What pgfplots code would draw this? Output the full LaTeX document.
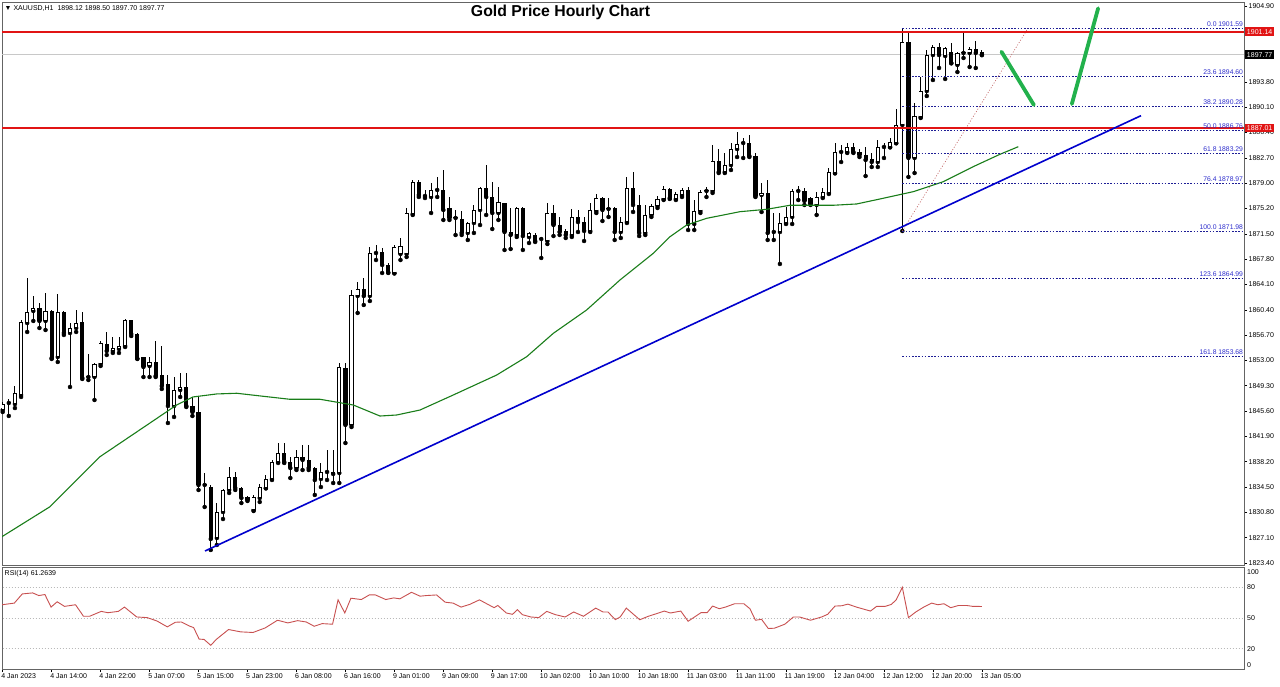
\documentclass[border=0pt]{standalone}
\usepackage{fontspec}
\setmainfont{Liberation Sans}
\usepackage{pgfplots}
\usepackage{pgfplotstable}
\pgfplotsset{compat=1.18}
\definecolor{fibline}{RGB}{30,30,150}
\definecolor{fibtext}{RGB}{45,45,205}
\definecolor{magreen}{RGB}{25,125,25}
\definecolor{trendblue}{RGB}{0,0,205}
\definecolor{arrowgreen}{RGB}{34,177,76}
\definecolor{rsired}{RGB}{200,80,80}
\definecolor{framegray}{RGB}{100,100,100}
\definecolor{fibdiag}{RGB}{190,90,90}
\definecolor{bidgray}{RGB}{200,200,200}
\definecolor{mtred}{RGB}{225,20,20}

\pgfplotstableread{
i O H L C
0 1845.78 1846.95 1845.49 1846.66
1 1846.81 1847.39 1844.91 1846.95
2 1846.66 1849.30 1846.07 1848.27
3 1847.98 1858.95 1847.69 1858.66
4 1858.51 1865.10 1857.20 1860.13
5 1860.27 1862.47 1858.81 1860.71
6 1860.71 1861.44 1857.78 1858.81
7 1858.81 1862.90 1857.49 1860.27
8 1860.27 1860.42 1853.25 1853.39
9 1853.54 1862.76 1852.81 1860.13
10 1860.13 1860.27 1856.76 1857.05
11 1857.05 1858.51 1849.15 1857.78
12 1857.78 1860.42 1857.20 1858.51
13 1858.66 1860.13 1850.32 1850.47
14 1850.61 1853.98 1850.17 1850.70
15 1850.61 1852.66 1847.25 1852.51
16 1852.51 1855.88 1852.22 1855.59
17 1855.44 1857.20 1853.83 1854.42
18 1854.42 1856.47 1854.13 1854.86
19 1854.71 1856.47 1854.13 1855.15
20 1855.15 1859.10 1855.00 1858.95
21 1858.95 1859.00 1856.61 1856.90
22 1856.90 1857.05 1853.25 1853.30
23 1853.54 1853.60 1850.61 1852.08
24 1852.22 1853.54 1850.61 1852.81
25 1852.81 1855.88 1850.61 1850.76
26 1850.90 1855.15 1848.86 1849.30
27 1849.59 1850.90 1843.88 1846.37
28 1846.37 1850.61 1844.76 1848.71
29 1848.71 1851.20 1847.69 1849.15
30 1849.15 1851.20 1846.22 1846.37
31 1846.37 1847.69 1844.91 1845.49
32 1845.49 1847.69 1834.08 1834.81
33 1834.81 1836.56 1831.59 1834.95
34 1834.51 1834.81 1825.30 1826.91
35 1827.05 1832.17 1826.03 1830.86
36 1830.86 1834.22 1829.83 1834.08
37 1834.08 1837.44 1833.64 1835.98
38 1835.98 1836.71 1834.08 1834.37
39 1834.37 1834.51 1832.17 1832.91
40 1833.05 1833.20 1832.47 1832.61
41 1831.15 1833.35 1831.00 1833.05
42 1832.91 1834.95 1832.32 1834.51
43 1834.37 1836.27 1834.30 1835.69
44 1835.69 1838.47 1835.54 1838.17
45 1838.17 1840.95 1838.03 1839.49
46 1839.49 1840.95 1838.03 1838.17
47 1838.17 1838.90 1835.83 1837.29
48 1837.29 1839.93 1837.00 1838.90
49 1838.90 1840.66 1837.00 1838.47
50 1838.47 1840.66 1837.00 1837.29
51 1837.29 1837.44 1833.35 1835.54
52 1835.69 1838.03 1834.51 1836.71
53 1836.71 1839.93 1835.54 1836.85
54 1836.71 1839.93 1835.10 1836.42
55 1836.56 1852.66 1835.10 1852.08
56 1851.93 1852.66 1840.95 1843.59
57 1843.59 1863.34 1843.29 1862.61
58 1862.47 1864.51 1859.98 1863.49
59 1863.49 1865.10 1861.15 1862.47
60 1862.47 1869.63 1861.73 1868.76
61 1868.76 1869.93 1867.73 1868.90
62 1868.90 1869.49 1865.83 1867.00
63 1867.00 1867.29 1865.83 1865.90
64 1865.83 1869.93 1865.75 1869.63
65 1868.61 1870.95 1867.73 1869.78
66 1868.61 1875.34 1868.17 1874.61
67 1874.46 1879.44 1874.32 1879.15
68 1879.15 1879.44 1876.95 1877.24
69 1877.10 1877.98 1876.80 1877.15
70 1876.95 1879.00 1874.61 1877.98
71 1877.98 1879.88 1876.95 1878.03
72 1877.98 1880.90 1873.59 1875.05
73 1875.34 1876.95 1873.59 1873.88
74 1873.88 1875.05 1871.39 1873.93
75 1873.73 1874.90 1871.39 1871.69
76 1871.69 1873.29 1870.66 1873.15
77 1873.15 1875.78 1871.69 1875.05
78 1875.05 1878.41 1872.85 1878.27
79 1878.27 1881.63 1874.32 1876.95
80 1876.95 1879.15 1872.27 1874.61
81 1874.61 1878.41 1873.59 1876.22
82 1876.07 1876.10 1869.20 1871.83
83 1871.83 1875.34 1869.34 1871.39
84 1871.39 1875.49 1871.10 1875.34
85 1875.34 1875.49 1869.20 1871.24
86 1871.10 1871.83 1870.22 1871.69
87 1871.39 1871.69 1870.37 1870.51
88 1870.80 1871.10 1868.03 1870.85
89 1870.51 1876.07 1870.07 1874.61
90 1874.61 1875.78 1871.24 1872.85
91 1872.85 1874.03 1871.39 1871.83
92 1871.98 1872.27 1870.95 1871.39
93 1871.39 1875.20 1871.10 1874.03
94 1874.03 1875.05 1871.83 1873.29
95 1873.29 1874.03 1870.51 1871.98
96 1871.98 1876.07 1871.83 1875.05
97 1874.90 1877.39 1874.61 1876.80
98 1876.80 1876.95 1873.44 1875.05
99 1875.20 1876.80 1874.03 1875.25
100 1875.34 1875.49 1870.66 1871.83
101 1871.83 1874.03 1870.95 1873.29
102 1873.29 1879.88 1873.15 1878.27
103 1878.27 1880.61 1874.76 1875.78
104 1875.78 1877.24 1871.24 1871.69
105 1871.69 1875.78 1871.39 1874.32
106 1874.32 1875.93 1874.03 1875.63
107 1875.63 1877.10 1875.34 1876.66
108 1876.66 1878.56 1876.51 1878.12
109 1878.12 1878.27 1876.66 1876.80
110 1876.66 1877.68 1876.51 1877.39
111 1877.24 1878.27 1876.95 1877.98
112 1877.98 1878.41 1872.12 1873.00
113 1873.00 1876.51 1872.12 1874.90
114 1874.90 1877.98 1874.61 1877.68
115 1877.83 1878.41 1876.95 1877.95
116 1877.83 1884.56 1877.54 1882.22
117 1882.22 1883.97 1880.46 1880.61
118 1880.61 1883.39 1880.46 1881.63
119 1881.63 1884.85 1880.90 1883.97
120 1883.97 1886.46 1882.80 1884.70
121 1884.85 1885.58 1882.66 1884.90
122 1884.85 1886.02 1882.80 1882.95
123 1882.95 1883.39 1876.95 1877.10
124 1877.24 1879.00 1874.76 1877.54
125 1877.54 1879.44 1870.66 1871.69
126 1871.83 1874.61 1870.66 1871.88
127 1871.83 1874.61 1867.15 1873.15
128 1873.15 1875.49 1873.00 1874.03
129 1874.03 1878.12 1873.00 1877.83
130 1877.83 1878.56 1876.51 1877.88
131 1877.83 1878.27 1875.78 1876.37
132 1876.80 1876.95 1875.78 1875.93
133 1875.78 1877.68 1874.32 1876.95
134 1876.95 1878.27 1876.80 1877.68
135 1877.54 1881.19 1877.39 1880.61
136 1880.46 1884.85 1880.40 1883.54
137 1883.54 1884.56 1882.07 1883.60
138 1883.54 1884.85 1883.39 1884.27
139 1884.27 1884.85 1883.39 1883.54
140 1883.54 1883.97 1882.80 1883.10
141 1883.10 1884.27 1880.02 1882.37
142 1882.51 1883.39 1881.34 1882.07
143 1882.07 1885.29 1881.34 1884.27
144 1884.27 1884.85 1882.66 1884.32
145 1884.27 1885.58 1884.20 1884.99
146 1884.85 1889.83 1884.80 1887.49
147 1887.49 1901.59 1871.98 1899.63
148 1899.63 1901.10 1879.88 1882.66
149 1882.66 1890.71 1880.46 1888.80
150 1888.66 1894.51 1888.51 1892.46
151 1892.46 1898.46 1891.73 1897.73
152 1897.73 1899.19 1894.07 1898.90
153 1898.90 1899.49 1895.83 1897.73
154 1897.58 1898.85 1894.22 1898.75
155 1898.17 1899.49 1896.50 1896.56
156 1896.27 1898.17 1895.24 1898.02
157 1898.02 1900.95 1897.29 1898.07
158 1898.02 1898.90 1895.97 1898.61
159 1898.61 1899.78 1895.83 1898.02
160 1898.12 1898.50 1897.70 1897.77
}\candles

\pgfplotstableread{
x m
-0.2 1827.20
7.73 1831.63
15.9 1838.95
24.07 1843.88
28.43 1846.52
31.1 1847.69
34.97 1848.13
38.24 1848.23
43.14 1847.73
46.94 1847.35
51.85 1847.35
57.29 1846.51
61.65 1844.90
64.38 1845.05
68.19 1845.78
73.63 1847.98
80.72 1850.90
85.62 1853.58
89.97 1857.00
95.42 1860.42
100.87 1864.81
106.31 1868.71
109.04 1871.14
111.76 1872.85
115.03 1873.83
120.47 1874.80
124.84 1875.15
128.64 1875.74
135.72 1875.74
139.54 1875.93
143.35 1876.66
148.79 1877.73
153.69 1879.19
158.59 1881.39
162.96 1883.20
165.95 1884.31
}\ma

\pgfplotstableread{
x r
-0.1 63.0
1.9 64.6
3.2 73.6
4.9 74.6
5.9 72.0
6.9 73.0
7.9 60.7
8.9 65.9
10.1 61.4
11.9 63.0
13.2 51.7
14.2 51.7
16.1 56.5
17.2 55.2
18.9 56.5
19.9 60.7
21.9 51.0
23.6 50.4
25.2 47.1
26.9 41.3
28.2 45.8
29.2 46.1
30.6 41.9
31.2 40.6
32.1 29.3
32.9 29.0
34.0 23.2
34.9 29.0
36.9 38.7
38.9 36.4
40.9 35.8
42.9 40.3
44.9 47.8
46.6 45.2
48.2 47.4
49.6 46.1
50.9 41.9
52.2 44.5
53.9 43.9
54.8 67.8
55.9 54.9
56.9 69.4
58.6 68.1
59.9 72.6
60.9 72.6
62.6 68.1
63.9 69.7
64.9 68.8
66.8 75.2
68.2 71.4
69.2 72.0
70.9 72.6
72.3 65.5
73.6 64.6
74.9 60.7
76.3 63.3
77.9 67.8
79.3 63.3
80.3 60.1
80.9 62.3
82.3 54.9
83.3 53.6
84.1 58.1
84.9 53.3
86.3 51.0
87.6 50.4
88.9 56.5
90.3 53.3
91.9 51.0
93.3 55.9
94.9 51.7
96.9 59.7
98.1 55.9
98.9 55.9
100.1 48.4
100.9 51.0
101.9 59.7
104.1 48.3
105.5 51.7
106.8 54.2
108.1 56.8
109.1 54.9
110.8 56.8
112.0 46.8
114.1 55.2
115.1 55.2
116.0 61.7
117.1 59.1
118.1 60.7
119.6 64.0
121.1 64.0
122.1 59.1
123.0 47.8
124.0 48.7
125.1 39.7
126.1 40.0
127.8 43.9
129.2 51.0
130.2 51.0
132.0 47.8
133.8 51.0
134.8 53.6
136.0 61.7
137.1 62.0
138.1 63.6
139.5 60.7
141.8 56.8
142.8 61.4
144.2 61.4
145.2 63.3
146.0 67.8
147.0 80.1
148.0 50.4
149.2 55.9
150.5 60.7
151.8 64.6
152.8 63.0
153.8 64.0
154.9 60.1
156.2 62.3
157.5 62.3
158.5 61.4
160.0 61.3
}\rsi

\newcommand{\lab}{\fontsize{7}{8}\selectfont}

\begin{document}
\begin{tikzpicture}[x=1pt,y=1pt]
\path[use as bounding box] (0,0) rectangle (1280,686);
\fill[white] (0,0) rectangle (1280,686);

% ---------------- main price panel ----------------
\begin{axis}[
  at={(2pt,121pt)}, anchor=south west,
  scale only axis, width=1242pt, height=563pt,
  xmin=-0.114, xmax=202.83, ymin=1823.10, ymax=1905.485,
  axis line style={draw=framegray, line width=0.9pt},
  xtick=\empty,
  ytick pos=right, yticklabel pos=right,
  ytick={1904.90,1901.20,1897.49,1893.79,1890.08,1886.38,1882.67,1878.97,1875.26,1871.56,1867.86,1864.15,1860.45,1856.74,1853.04,1849.33,1845.63,1841.92,1838.22,1834.51,1830.81,1827.10,1823.40},
  yticklabels={1904.90,1901.20,1897.50,1893.80,1890.10,1886.40,1882.70,1879.00,1875.20,1871.50,1867.80,1864.10,1860.40,1856.70,1853.00,1849.30,1845.60,1841.90,1838.20,1834.50,1830.80,1827.10,1823.40},
  tick align=outside, major tick length=3pt,
  ytick style={draw=black, line width=0.5pt},
  yticklabel style={font=\lab, anchor=west, inner sep=0pt, xshift=1.5pt},
  clip mode=individual,
]
% bid line
\addplot[bidgray, line width=0.8pt] coordinates {(-1,1897.77) (205,1897.77)};

% candles: wicks, bodies, hollow insides of rising candles
\addplot[only marks, mark=none, error bars/.cd, y dir=plus, y explicit, error mark=none,
  error bar style={draw=black, line width=0.9pt}]
  table[x=i, y=L, y error expr={\thisrow{H}-\thisrow{L}}] {\candles};
\addplot[only marks, mark=none, error bars/.cd, y dir=plus, y explicit, error mark=none,
  error bar style={draw=black, line width=4.2pt}]
  table[x=i, y expr={min(\thisrow{O},\thisrow{C})}, y error expr={max(abs(\thisrow{C}-\thisrow{O}),0.15)}] {\candles};
\addplot[white, line width=2.4pt, mark=none, line cap=butt,
  quiver={u=0, v={max(\thisrow{C}-\thisrow{O}-0.24,0)}}]
  table[x=i, y expr={\thisrow{O}+0.12}] {\candles};

% moving average
\addplot[magreen, line width=1.1pt] table[x=x, y=m] {\ma};

% Fibonacci levels
\addplot[fibline, line width=0.7pt, dash pattern=on 1.6pt off 1.6pt] coordinates {(147,1901.59) (205,1901.59)};
\addplot[fibline, line width=0.7pt, dash pattern=on 1.6pt off 1.6pt] coordinates {(147,1894.60) (205,1894.60)};
\addplot[fibline, line width=0.7pt, dash pattern=on 1.6pt off 1.6pt] coordinates {(147,1890.28) (205,1890.28)};
\addplot[fibline, line width=0.7pt, dash pattern=on 1.6pt off 1.6pt] coordinates {(147,1886.76) (205,1886.76)};
\addplot[fibline, line width=0.7pt, dash pattern=on 1.6pt off 1.6pt] coordinates {(147,1883.29) (205,1883.29)};
\addplot[fibline, line width=0.7pt, dash pattern=on 1.6pt off 1.6pt] coordinates {(147,1878.97) (205,1878.97)};
\addplot[fibline, line width=0.7pt, dash pattern=on 1.6pt off 1.6pt] coordinates {(147,1871.98) (205,1871.98)};
\addplot[fibline, line width=0.7pt, dash pattern=on 1.6pt off 1.6pt] coordinates {(147,1864.99) (205,1864.99)};
\addplot[fibline, line width=0.7pt, dash pattern=on 1.6pt off 1.6pt] coordinates {(147,1853.68) (205,1853.68)};
\addplot[fibdiag, line width=0.6pt, dash pattern=on 1pt off 1.8pt] coordinates {(147,1871.98) (167.5,1901.59)};

% horizontal levels
\addplot[mtred, line width=1.7pt] coordinates {(-1,1901.14) (205,1901.14)};
\addplot[mtred, line width=1.7pt] coordinates {(-1,1887.01) (205,1887.01)};

% trend line
\addplot[trendblue, line width=1.6pt] coordinates {(33.06,1825.15) (186.0,1888.85)};

% projected path
\addplot[arrowgreen, line width=3.8pt, line cap=round] coordinates {(163.2,1898.21) (168.5,1890.41)};
\addplot[arrowgreen, line width=3.8pt, line cap=round] coordinates {(174.7,1890.56) (179.0,1904.56)};

% Fibonacci labels
\foreach \v/\t in {1901.59/0.0 1901.59, 1894.60/23.6 1894.60, 1890.28/38.2 1890.28, 1886.76/50.0 1886.76, 1883.29/61.8 1883.29, 1878.97/76.4 1878.97, 1871.98/100.0 1871.98, 1864.99/123.6 1864.99, 1853.68/161.8 1853.68}{
  \edef\temp{\noexpand\node[anchor=south east, inner sep=0pt, font=\noexpand\fontsize{6.8}{7}\noexpand\selectfont, text=fibtext] at (axis cs:202.7,\v) [yshift=1.6pt] {\t};}
  \temp
}

\node[anchor=west, inner sep=0pt, font=\lab] at (rel axis cs:0,1) [xshift=2.5pt, yshift=-6.5pt] {▼ XAUUSD,H1\ \ 1898.12 1898.50 1897.70 1897.77};
\node[inner sep=0pt, font=\bfseries\fontsize{15.8}{18}\selectfont] at (rel axis cs:0.4497,1) [yshift=-10pt] {Gold Price Hourly Chart};

\coordinate (b1) at (axis cs:202.83,1901.14);
\coordinate (b2) at (axis cs:202.83,1897.77);
\coordinate (b3) at (axis cs:202.83,1887.01);
\end{axis}

\node[anchor=west, fill=mtred, text=white, inner xsep=1.8pt, inner ysep=0pt, minimum height=8.5pt, font=\lab] at ([xshift=1pt]b1) {1901.14};
\node[anchor=west, fill=black, text=white, inner xsep=1.8pt, inner ysep=0pt, minimum height=8.5pt, font=\lab] at ([xshift=1pt]b2) {1897.77};
\node[anchor=west, fill=mtred, text=white, inner xsep=1.8pt, inner ysep=0pt, minimum height=8.5pt, font=\lab] at ([xshift=1pt]b3) {1887.01};

% ---------------- RSI panel ----------------
\begin{axis}[
  at={(2pt,17pt)}, anchor=south west,
  scale only axis, width=1242pt, height=102pt,
  xmin=-0.114, xmax=202.83, ymin=0, ymax=100,
  axis line style={draw=framegray, line width=0.9pt},
  xtick={0,8,...,160},
  xticklabels={4 Jan 2023,4 Jan 14:00,4 Jan 22:00,5 Jan 07:00,5 Jan 15:00,5 Jan 23:00,6 Jan 08:00,6 Jan 16:00,9 Jan 01:00,9 Jan 09:00,9 Jan 17:00,10 Jan 02:00,10 Jan 10:00,10 Jan 18:00,11 Jan 03:00,11 Jan 11:00,11 Jan 19:00,12 Jan 04:00,12 Jan 12:00,12 Jan 20:00,13 Jan 05:00},
  xtick pos=bottom,
  tick align=outside, major tick length=3pt,
  xtick style={draw=black, line width=0.5pt},
  xticklabel style={font=\lab, anchor=north west, inner sep=0pt, xshift=-1.5pt, yshift=-1.5pt},
  ytick={4,20,50,80,95},
  yticklabels={0,20,50,80,100},
  ytick pos=right, yticklabel pos=right,
  ytick style={draw=none},
  yticklabel style={font=\lab, anchor=west, inner sep=0pt, xshift=0pt},
  clip mode=individual,
]
\addplot[gray!55, line width=0.5pt, dash pattern=on 1.5pt off 1.5pt] coordinates {(-1,80) (205,80)};
\addplot[gray!55, line width=0.5pt, dash pattern=on 1.5pt off 1.5pt] coordinates {(-1,50) (205,50)};
\addplot[gray!55, line width=0.5pt, dash pattern=on 1.5pt off 1.5pt] coordinates {(-1,20) (205,20)};
\addplot[rsired, line width=0.9pt] table[x=x, y=r] {\rsi};
\node[anchor=north west, inner sep=0pt, font=\lab] at (rel axis cs:0,1) [xshift=2.5pt, yshift=-3pt] {RSI(14) 61.2639};
\end{axis}
\end{tikzpicture}
\end{document}
